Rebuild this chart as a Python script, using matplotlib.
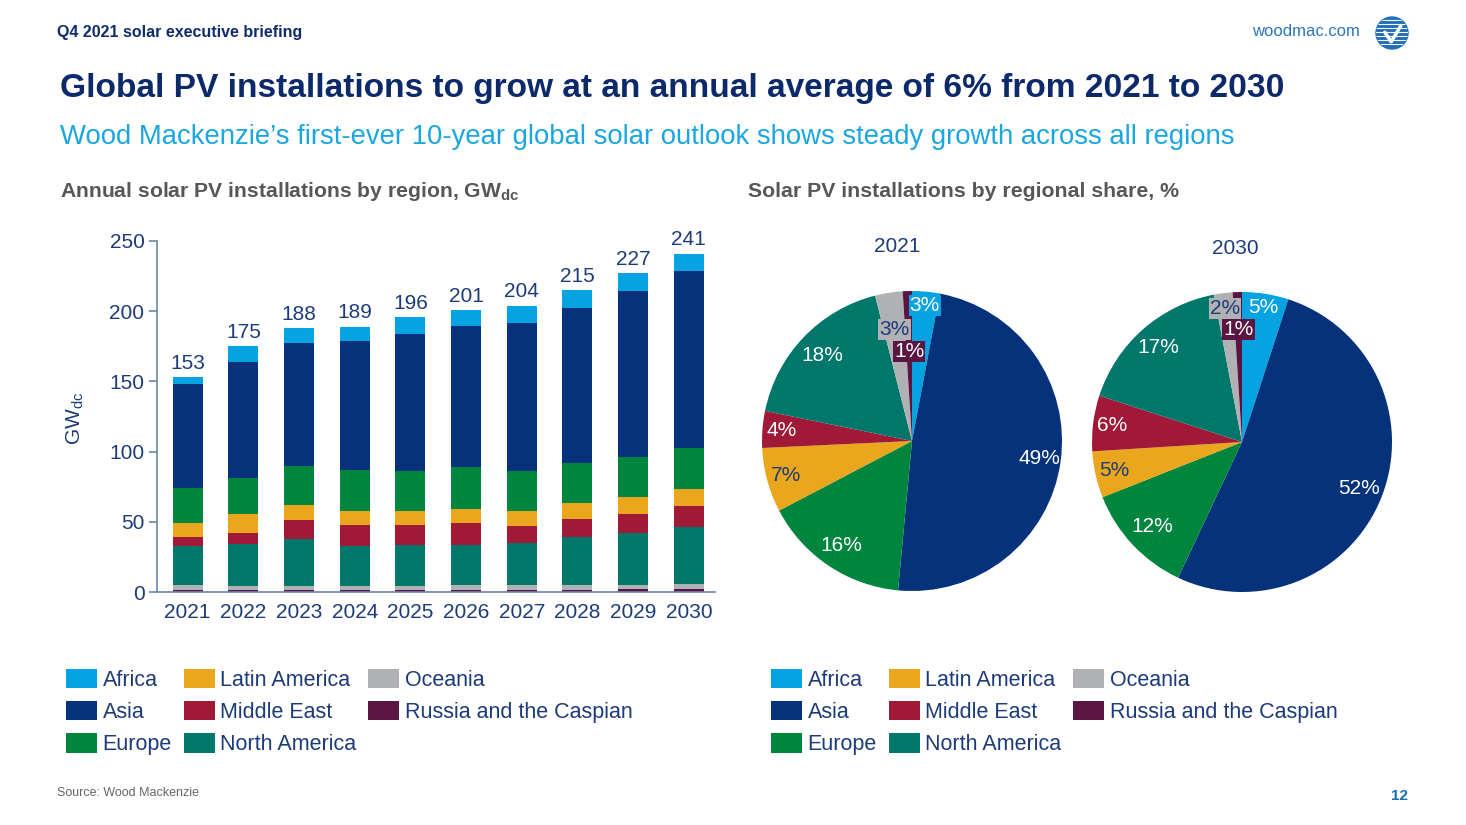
import numpy as np
import matplotlib
matplotlib.use('Agg')
import matplotlib.pyplot as plt
from matplotlib.patches import Patch, Circle

plt.rcParams['font.family'] = ['Liberation Sans', 'DejaVu Sans']
plt.rcParams['mathtext.fontset'] = 'custom'
plt.rcParams['mathtext.rm'] = 'Liberation Sans'
plt.rcParams['mathtext.bf'] = 'Liberation Sans:bold'
plt.rcParams['mathtext.it'] = 'Liberation Sans:italic'

# data
years = ['2021', '2022', '2023', '2024', '2025', '2026', '2027', '2028', '2029', '2030']
regions = ['Africa', 'Asia', 'Europe', 'Latin America', 'Middle East',
           'North America', 'Oceania', 'Russia and the Caspian']

# GWdc per region
africa    = [4.5, 11, 10.5, 10, 12, 11.5, 12.5, 13, 12.5, 12.5]
asia      = [74.5, 83, 87.5, 92, 97.5, 100.5, 105, 110, 118.5, 126]
europe    = [24.5, 25.5, 28, 29, 28.5, 30, 29, 28.5, 28, 29]
latam     = [10.5, 13.5, 11, 10.5, 10, 9.5, 10.5, 11.5, 12.5, 12.5]
mideast   = [6.5, 7.5, 13, 14.5, 14.5, 16, 12, 13, 13.5, 14.5]
n_america = [27.5, 30, 33.5, 28.5, 29, 28.5, 30, 34, 37, 40.5]
oceania   = [3.5, 3, 3, 3, 3, 3.5, 3.5, 3.5, 3, 4]
russia    = [1.5, 1.5, 1.5, 1.5, 1.5, 1.5, 1.5, 1.5, 2, 2]

# regional share, % (same order as regions)
share_2021 = [3, 49, 16, 7, 4, 18, 3, 1]
share_2030 = [5, 52, 12, 5, 6, 17, 2, 1]

colors = ['#05a3e2', '#05327a', '#00853e', '#eaa61c', '#a01a38',
          '#00776b', '#b0b1b4', '#5b1542']
NAVY = '#1d3b78'
GREY = '#575757'

fig = plt.figure(figsize=(14.66, 8.25), dpi=100)
W, H = 1466, 825


def fx(px):
    return px / W


def fy(py):
    return 1 - py / H


def fit(txt, width_px):
    r = fig.canvas.get_renderer()
    bb = txt.get_window_extent(r)
    txt.set_fontsize(txt.get_fontsize() * width_px / bb.width)


# header texts
fig.text(fx(57), fy(32), 'Q4 2021 solar executive briefing', color='#0f2c6b',
         fontsize=11.5, fontweight='bold', va='center')
t = fig.text(fx(1360), fy(31), 'woodmac.com', color='#2b76bd', fontsize=12,
             ha='right', va='center')
fit(t, 108)
t = fig.text(fx(60), fy(97), 'Global PV installations to grow at an annual average of 6% from 2021 to 2030',
             color='#0c2a6a', fontsize=24, fontweight='bold', va='baseline')
fit(t, 1230)
t = fig.text(fx(60), fy(144), 'Wood Mackenzie\u2019s first-ever 10-year global solar outlook shows steady growth across all regions',
             color='#1aa6e0', fontsize=20, va='baseline')
fit(t, 1172)
t = fig.text(fx(60), fy(197), r'Annual solar PV installations by region, GW$_{\mathbf{dc}}$',
             color=GREY, fontsize=14, fontweight='bold', va='baseline')
fit(t, 462)
t = fig.text(fx(748), fy(197), 'Solar PV installations by regional share, %',
             color=GREY, fontsize=14, fontweight='bold', va='baseline')
fit(t, 432)
fig.text(fx(57), fy(793), 'Source: Wood Mackenzie', color='#666666', fontsize=9, va='center')
fig.text(fx(1399), fy(796), '12', color='#1a6db5', fontsize=11, fontweight='bold',
         ha='center', va='center')

# logo
lax = fig.add_axes([fx(1392 - 20), fy(33 + 20), fx(40), 40 / H])
lax.set_xlim(-1.25, 1.25)
lax.set_ylim(-1.25, 1.25)
lax.set_aspect('equal')
lax.axis('off')
circ = Circle((0, 0), 1, color='#1f6fb8')
lax.add_patch(circ)
for yy in np.linspace(-0.7, 0.8, 7):
    ln, = lax.plot([-1, 1], [yy, yy], color='white', lw=0.8)
    ln.set_clip_path(circ)
lax.plot([-0.45, -0.05, 0.55], [0.05, -0.55, 0.45], color='white', lw=2.5,
         solid_capstyle='round')

# stacked bars
ax = fig.add_axes([fx(157), fy(592), fx(715 - 157), (592 - 241) / H])
x = np.arange(len(years))
stack = [(russia, colors[7]), (oceania, colors[6]), (n_america, colors[5]),
         (mideast, colors[4]), (latam, colors[3]), (europe, colors[2]),
         (asia, colors[1]), (africa, colors[0])]
bottom = np.zeros(len(years))
for vals, c in stack:
    ax.bar(x, vals, bottom=bottom, width=0.54, color=c, linewidth=0)
    bottom += np.array(vals)
for xi, tot in zip(x, bottom):
    ax.text(xi, tot + 3, f'{tot:.0f}', ha='center', va='bottom', color=NAVY, fontsize=15)

ax.set_xlim(-0.55, 9.47)
ax.set_ylim(0, 250)
ax.set_yticks([0, 50, 100, 150, 200, 250])
ax.set_xticks(x)
ax.set_xticklabels(years)
ax.tick_params(axis='y', colors='#6b84ad', length=6, width=1.2, labelcolor=NAVY,
               labelsize=15, pad=3)
ax.tick_params(axis='x', length=0, labelcolor=NAVY, labelsize=15, pad=8)
for s in ['top', 'right']:
    ax.spines[s].set_visible(False)
for s in ['left', 'bottom']:
    ax.spines[s].set_color('#6b84ad')
    ax.spines[s].set_linewidth(1.2)
fig.text(fx(75), fy(418), r'GW$_{\mathrm{dc}}$', rotation=90, color=NAVY,
         fontsize=15, ha='center', va='center')

# pies
label_r_2021 = [0.91, 0.86, 0.84, 0.87, 0.87, 0.83, 0.75, 0.6]
label_r_2030 = [0.91, 0.84, 0.82, 0.875, 0.875, 0.84, 0.9, 0.75]
txt_col = ['white', 'white', 'white', NAVY, 'white', 'white', NAVY, 'white']
boxed = [True, False, False, False, False, False, True, True]


def draw_pie(cx, cy, share, label_r, year, year_x, year_y, box_africa):
    pa = fig.add_axes([fx(cx - 187.5), fy(cy + 187.5), fx(375), 375 / H])
    wedges, _ = pa.pie(share, colors=colors, startangle=90, counterclock=False,
                       wedgeprops=dict(linewidth=0))
    pa.set_xlim(-1.25, 1.25)
    pa.set_ylim(-1.25, 1.25)
    for i, w in enumerate(wedges):
        a = np.deg2rad((w.theta1 + w.theta2) / 2)
        r = label_r[i]
        bb = None
        if boxed[i] and (i != 0 or box_africa):
            bb = dict(boxstyle='square,pad=0.05', facecolor=colors[i], edgecolor='none')
        pa.text(r * np.cos(a), r * np.sin(a), f'{share[i]}%', ha='center', va='center',
                color=txt_col[i], fontsize=15, bbox=bb)
    fig.text(fx(year_x), fy(year_y), year, ha='center', va='center',
             color=NAVY, fontsize=15)


draw_pie(912, 441, share_2021, label_r_2021, '2021', 897, 247, True)
draw_pie(1242, 442, share_2030, label_r_2030, '2030', 1235, 249, False)

# legends
handles = [Patch(facecolor=c, edgecolor='none') for c in colors]
for lx in [66, 771]:
    fig.legend(handles, regions, loc='upper left', bbox_to_anchor=(fx(lx), fy(669)),
               ncol=3, frameon=False, fontsize=15.5, handlelength=1.45,
               handleheight=1.0, handletextpad=0.25, columnspacing=0.55,
               labelspacing=0.47, borderpad=0, borderaxespad=0, labelcolor=NAVY)

fig.savefig('out.png', dpi=100, facecolor='white')
